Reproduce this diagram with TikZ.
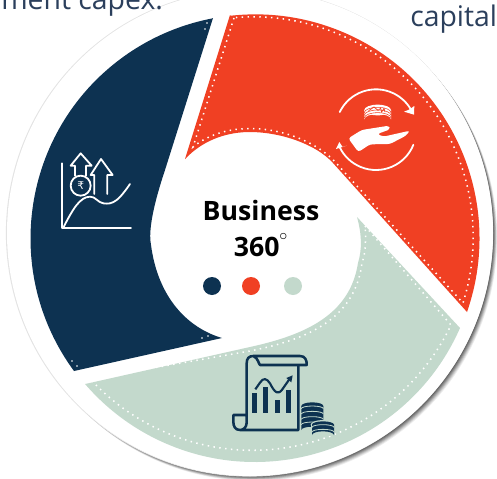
\documentclass[tikz,border=0pt]{standalone}
\usepackage{fontspec}
\setmainfont{Open Sans}
\newfontfamily\symfont{DejaVu Sans}
\definecolor{navy}{HTML}{0D3251}
\definecolor{redc}{HTML}{F04023}
\definecolor{greenc}{HTML}{C3D9CC}
\definecolor{slate}{HTML}{2B3F5C}
\tikzset{
 dotline/.style={draw=white,line width=1.15pt,dash pattern=on 1.1pt off 3.3pt},
 iconw/.style={draw=white,line width=1.35pt,line cap=round,line join=round},
 iconn/.style={draw=navy,line width=1.9pt,line join=round},
 cutoff/.style={text=slate,inner sep=0,font=\fontsize{21.3}{21.3}\selectfont,anchor=base west},
 pip/.style={circle,inner sep=0,minimum size=13.5pt},
 tinydot/.style={fill=white,inner sep=0,circle,minimum size=1.4pt}
}
\begin{document}
\begin{tikzpicture}[x=0.75pt,y=-0.75pt]
\useasboundingbox (0,0) rectangle (497,479);
\clip (0,0) rectangle (497,479);
% shadow and disc
\foreach \d/\o in {7/.07,6/.09,5/.11,4/.13,3/.15,2/.17,1/.2}{
  \fill[black,opacity=\o] (250+\d*.6,233+\d*.7) circle[radius=243];
}
\fill[gray!22] (249.5,233) circle[radius=243.6];
\fill[white] (250,233) circle[radius=243];
% red segment
\fill[redc] (230,15) -- (185,159) .. controls (205,138) and (230,132) .. (250,132) .. controls (280,132) and (316,144) .. (333,163) -- (467,312)
  arc[start angle=19.2,end angle=-96.4,radius=224] -- cycle;
\draw[dotline] (234,18) -- (193,147) .. controls (210,133) and (232,128.5) .. (250,128.5) .. controls (282,128.5) and (318,142) .. (337,164) -- (463,303)
  arc[start angle=17.5,end angle=-95,radius=220] -- cycle;
% green segment
\fill[greenc] (357,217) -- (460,328) arc[start angle=23.7,end angle=139.3,radius=224]
  -- (250,347) .. controls (305,335) and (350,315) .. (358,263) .. controls (362,250) and (362,235) .. (357,217) -- cycle;
\draw[dotline] (365,226) -- (451,325) arc[start angle=25.5,end angle=137.5,radius=220]
  -- (250,351) .. controls (310,339) and (355,318) .. (362,263) .. controls (366,252) and (366,238) .. (365,226);
% navy segment
\fill[navy] (213,18) -- (165,170) .. controls (150,215) and (149,235) .. (151,245) .. controls (158,298) and (188,328) .. (222,338) -- (74,371)
  arc[start angle=143.7,end angle=259.2,radius=224] -- cycle;
\node[tinydot] (d1) at (207,23) {};
\node[tinydot] (d2) at (205,29) {};
\node[tinydot] (d3) at (208,336) {};
\node[tinydot] (d4) at (202,338) {};
\node[tinydot] (d5) at (77,366) {};
\node[tinydot] (d6) at (72,361) {};
% navy icon
\begin{scope}[shift={(50,145)},scale=1/3]
 \draw[iconw] (35,55) -- (35,250) -- (243,250);
 \draw[iconw] plot[smooth,tension=.7] coordinates {(40,248)(80,180)(120,155)(160,175)(200,165)(240,117)};
 \draw[iconw] (92,122) circle[radius=30];
 \draw[iconw] (75,92) -- (75,62) -- (62,62) -- (92,25) -- (125,62) -- (108,62) -- (108,92);
 \draw[iconw] (133,147) -- (133,90) -- (122,90) -- (153,42) -- (188,90) -- (172,90) -- (172,147);
 \node[text=white,inner sep=0,font=\symfont\fontsize{8}{8}\selectfont] (rupee) at (92,122) {₹};
\end{scope}
% red icon
\begin{scope}[shift={(250,0)},scale=1/3]
 \draw[iconw] (378,389) ++(-154:121) arc[start angle=-154,end angle=-26,radius=121];
 \draw[iconw] (378,389) ++(22:121) arc[start angle=22,end angle=155,radius=121];
 \fill[white] (492,344) -- (462,335) -- (477,329) -- (493,318) -- cycle;
 \fill[white] (258,447) -- (290,437) -- (278,441) -- (268,426) -- cycle;
 \fill[white] (343,330) -- (343,358) arc[start angle=180,end angle=360,x radius=40,y radius=16] -- (423,330) -- cycle;
 \fill[white] (383,330) ellipse[x radius=40,y radius=16];
 \draw[redc,line width=.4pt] (343,338) arc[start angle=180,end angle=360,x radius=40,y radius=16];
 \draw[redc,line width=.4pt] (343,346) arc[start angle=180,end angle=360,x radius=40,y radius=16];
 \draw[redc,line width=.4pt] (343,354) arc[start angle=180,end angle=360,x radius=40,y radius=16];
 \draw[redc,line width=.55pt] (356,332) -- (372,321) -- (384,331) -- (392,325) -- (395,336) -- (402,325) -- (405,336);
 \fill[white,rounded corners=2pt] (295,415) -- (335,390) -- (417,377) -- (420,388) -- (382,402) -- (400,410) -- (480,392) -- (468,407) -- (420,432) -- (360,433) -- (325,456) -- cycle;
\end{scope}
% green icon
\begin{scope}[shift={(225,350)},scale=1/3]
 \draw[iconn] (220,45) -- (220,240) -- (45,240) .. controls (30,240) and (25,228) .. (25,215) -- (25,195) -- (65,195) -- (65,218) .. controls (65,232) and (55,240) .. (45,240);
 \draw[iconn] (65,195) -- (65,40) .. controls (65,25) and (72,18) .. (85,18) -- (225,18) .. controls (240,18) and (246,30) .. (245,45) -- (105,45) .. controls (100,40) and (100,25) .. (85,18);
 \fill[navy] (80,130) rectangle (96,190);
 \fill[navy] (114,110) rectangle (130,190);
 \fill[navy] (149,150) rectangle (165,190);
 \fill[navy] (182,120) rectangle (198,190);
 \draw[navy,line width=1.6pt,line join=round] (91,118) -- (105,98) .. controls (115,82) and (125,85) .. (135,100) .. controls (150,130) and (160,135) .. (172,118) -- (193,88);
 \fill[navy] (203,76) -- (199,97) -- (184,84) -- cycle;
 % coin stacks
 \fill[navy] (229,168) -- (229,240) arc[start angle=180,end angle=360,x radius=33,y radius=10] -- (295,168) -- cycle;
 \fill[navy] (262,168) ellipse[x radius=33,y radius=11];
 \foreach \y in {176,192,208,224}{
  \draw[greenc,line width=.6pt] (229,\y) arc[start angle=180,end angle=360,x radius=33,y radius=8];
 }
 \fill[greenc] (294,224) ellipse[x radius=37,y radius=14];
 \fill[greenc] (257,224) rectangle (331,258);
 \fill[navy] (261,224) -- (261,255) arc[start angle=180,end angle=360,x radius=33,y radius=11] -- (327,224) -- cycle;
 \fill[navy] (294,224) ellipse[x radius=33,y radius=10];
 \foreach \y in {232,246}{
  \draw[greenc,line width=.6pt] (261,\y) arc[start angle=180,end angle=360,x radius=33,y radius=8];
 }
\end{scope}
% centre texts
\node[inner sep=0,anchor=base,text=black,font=\bfseries\fontsize{20}{20}\selectfont] (title) at (261,220) {Business};
\node[inner sep=0,anchor=base,text=black,font=\bfseries\fontsize{20}{20}\selectfont] (num) at (261,256) {360\smash{\raisebox{.5ex}{\fontsize{17}{17}\selectfont\mdseries$^{\circ}$}}};
\node[pip,fill=navy] (p1) at (212,286) {};
\node[pip,fill=redc] (p2) at (251,286) {};
\node[pip,fill=greenc] (p3) at (293,286) {};
% cut-off texts
\node[cutoff] (t1) at (1,9) {ment capex.};
\node[cutoff] (t2) at (410,26) {capital};
\end{tikzpicture}
\end{document}
